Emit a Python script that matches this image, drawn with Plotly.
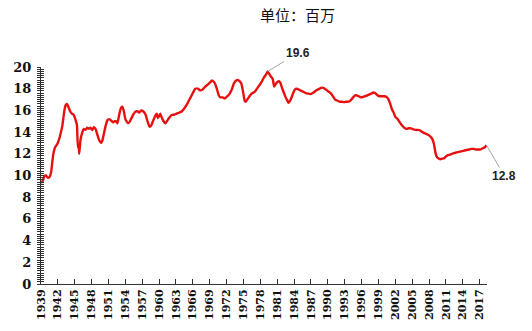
import plotly.graph_objects as go

# Manufacturing employment (millions), by year fraction
years = [
    1939.0, 1939.3, 1939.6, 1939.9, 1940.2, 1940.5, 1940.8, 1941.0, 1941.2, 1941.5,
    1941.9, 1942.2, 1942.5, 1942.8, 1943.0, 1943.2, 1943.4, 1943.6, 1943.9, 1944.2,
    1944.5, 1944.8, 1945.1, 1945.4, 1945.55, 1945.7, 1945.8, 1946.0, 1946.3, 1946.6,
    1946.9, 1947.2, 1947.5, 1947.8, 1948.1, 1948.4, 1948.7, 1949.0, 1949.4, 1949.7,
    1949.9, 1950.2, 1950.5, 1950.8, 1951.1, 1951.4, 1951.8, 1952.1, 1952.4, 1952.6,
    1952.9, 1953.2, 1953.45, 1953.7, 1954.0, 1954.4, 1954.7, 1955.0, 1955.4, 1955.8,
    1956.2, 1956.5, 1956.8, 1957.2, 1957.6, 1958.0, 1958.3, 1958.6, 1958.9, 1959.3,
    1959.6, 1959.75, 1959.9, 1960.2, 1960.5, 1960.8, 1961.1, 1961.5, 1961.9, 1962.3,
    1962.7, 1963.1, 1963.6, 1964.0, 1964.5, 1965.0, 1965.5, 1966.0, 1966.4, 1966.9,
    1967.3, 1967.7, 1968.2, 1968.7, 1969.1, 1969.4, 1969.8, 1970.2, 1970.6, 1970.9,
    1971.3, 1971.7, 1972.1, 1972.5, 1972.9, 1973.3, 1973.7, 1974.0, 1974.3, 1974.6,
    1974.9, 1975.2, 1975.4, 1975.8, 1976.2, 1976.6, 1977.0, 1977.4, 1977.8, 1978.2,
    1978.6, 1979.0, 1979.3, 1979.6, 1979.9, 1980.2, 1980.45, 1980.7, 1981.0, 1981.3,
    1981.6, 1981.9, 1982.2, 1982.5, 1982.8, 1983.0, 1983.3, 1983.7, 1984.1, 1984.5,
    1984.9, 1985.3, 1985.7, 1986.1, 1986.5, 1986.9, 1987.3, 1987.7, 1988.1, 1988.5,
    1988.9, 1989.3, 1989.7, 1990.1, 1990.5, 1990.9, 1991.3, 1991.7, 1992.1, 1992.5,
    1992.9, 1993.3, 1993.7, 1994.1, 1994.5, 1994.9, 1995.3, 1995.7, 1996.1, 1996.5,
    1996.9, 1997.3, 1997.7, 1998.1, 1998.4, 1998.8, 1999.2, 1999.6, 2000.0, 2000.4,
    2000.8, 2001.1, 2001.4, 2001.7, 2002.0, 2002.4, 2002.8, 2003.2, 2003.6, 2004.0,
    2004.4, 2004.8, 2005.2, 2005.6, 2006.0, 2006.4, 2006.8, 2007.2, 2007.6, 2008.0,
    2008.4, 2008.7, 2008.9, 2009.1, 2009.3, 2009.6, 2010.0, 2010.3, 2010.7, 2011.1,
    2011.5, 2011.9, 2012.3, 2012.7, 2013.1, 2013.5, 2013.9, 2014.3, 2014.7, 2015.1,
    2015.5, 2015.9, 2016.3, 2016.7, 2017.1, 2017.5, 2017.9, 2018.2,
]
employment = [
    9.3, 9.5, 9.95, 10.0, 9.8, 9.85, 10.3, 11.2, 12.0, 12.6,
    12.9, 13.3, 13.9, 14.6, 15.4, 16.1, 16.5, 16.6, 16.3, 15.9,
    15.7, 15.6, 15.2, 14.6, 12.6, 12.8, 12.0, 13.2, 13.9, 14.3,
    14.2, 14.4, 14.3, 14.4, 14.2, 14.45, 14.3, 13.8, 13.2, 13.0,
    13.2, 13.9, 14.6, 15.1, 15.2, 15.1, 14.9, 15.0, 15.0, 14.8,
    15.6, 16.2, 16.35, 16.0, 15.2, 14.85, 14.9, 15.2, 15.6, 15.9,
    15.9, 15.8, 16.0, 15.9, 15.6, 14.9, 14.5, 14.6, 15.0, 15.5,
    15.7, 15.3, 15.4, 15.7, 15.3, 15.0, 14.8, 15.1, 15.4, 15.6,
    15.6, 15.7, 15.8, 15.9, 16.2, 16.6, 17.1, 17.6, 18.0, 18.0,
    17.85, 17.9, 18.2, 18.4, 18.6, 18.75, 18.6, 18.1, 17.4, 17.2,
    17.2, 17.1, 17.3, 17.5, 17.9, 18.5, 18.75, 18.8, 18.7, 18.5,
    17.8, 16.9, 16.8, 17.1, 17.4, 17.6, 17.7, 18.0, 18.3, 18.6,
    19.0, 19.3, 19.6, 19.35, 19.1, 18.9, 18.2, 18.4, 18.6, 18.7,
    18.5, 18.0, 17.6, 17.2, 16.9, 16.7, 16.9, 17.4, 17.9, 18.0,
    17.9, 17.8, 17.7, 17.6, 17.55, 17.5, 17.6, 17.75, 17.9, 18.0,
    18.1, 18.05, 17.9, 17.75, 17.6, 17.3, 17.0, 16.9, 16.8, 16.8,
    16.75, 16.8, 16.8, 16.95, 17.2, 17.4, 17.35, 17.25, 17.2, 17.3,
    17.35, 17.45, 17.55, 17.65, 17.6, 17.4, 17.3, 17.3, 17.3, 17.25,
    17.0, 16.6, 16.1, 15.8, 15.4, 15.2, 14.9, 14.6, 14.4, 14.3,
    14.35, 14.35, 14.25, 14.2, 14.2, 14.15, 14.0, 13.9, 13.8, 13.7,
    13.5, 13.2, 12.8, 12.2, 11.8, 11.6, 11.5, 11.55, 11.6, 11.8,
    11.9, 11.95, 12.05, 12.1, 12.15, 12.2, 12.25, 12.3, 12.35, 12.4,
    12.45, 12.45, 12.4, 12.4, 12.4, 12.5, 12.6, 12.8,
]

tick_years = list(range(1939, 2018, 3))
tick_labels = [str(y) for y in tick_years]
unit_label = "单位：百万"

line_color = "#e8100f"
axis_color = "#333333"
label_font = dict(family="DejaVu Serif", size=11, color="#111111", weight="bold")

fig = go.Figure()
fig.add_trace(go.Scatter(
    x=years, y=employment, mode="lines",
    line=dict(color=line_color, width=2.4, shape="spline", smoothing=0.3),
    hoverinfo="skip", showlegend=False,
))

# Peak and latest value call-outs
peak_i = employment.index(max(employment))
last_i = len(employment) - 1
callouts = [(peak_i, 30, -18), (last_i, 18, 31)]
for i, ax, ay in callouts:
    fig.add_annotation(
        x=years[i], y=employment[i], text=f"{employment[i]:.1f}",
        showarrow=True, arrowhead=0, arrowwidth=1, arrowcolor="#a6a6a6",
        ax=ax, ay=ay, standoff=0,
        font=dict(family="Liberation Sans", size=12, color="#222222", weight="bold"),
    )

fig.add_annotation(
    x=0.575, y=1.0, xref="paper", yref="paper", yanchor="middle", yshift=53,
    text=unit_label, showarrow=False,
    font=dict(family="Noto Sans CJK SC", size=15, color="#111111"),
)

fig.update_layout(
    width=532, height=331,
    margin=dict(l=41, r=45, t=67, b=47, autoexpand=False),
    paper_bgcolor="white", plot_bgcolor="white",
    xaxis=dict(
        range=[1939, 2018.3], tickmode="array", tickvals=tick_years, ticktext=tick_labels,
        tickangle=-90, tickfont=label_font, automargin=False,
        showgrid=False, zeroline=False, showline=True, linecolor=axis_color, linewidth=1,
        ticks="inside", ticklen=5, tickcolor=axis_color,
    ),
    yaxis=dict(
        range=[0, 20], dtick=2, tickfont=dict(label_font, size=13), ticklabelstandoff=3,
        automargin=False,
        showgrid=False, zeroline=False, showline=True, linecolor=axis_color, linewidth=1,
        ticks="outside", ticklen=3, tickcolor=axis_color,
        minor=dict(dtick=0.2, ticks="outside", ticklen=3, tickcolor=axis_color),
    ),
    yaxis2=dict(
        range=[0, 20], dtick=2, overlaying="y", side="left", showticklabels=False,
        showgrid=False, zeroline=False, showline=False, automargin=False,
        ticks="inside", ticklen=3, tickcolor=axis_color,
        minor=dict(dtick=0.2, ticks="inside", ticklen=3, tickcolor=axis_color),
    ),
)
# Invisible trace so the inner tick marks on yaxis2 are drawn
fig.add_trace(go.Scatter(x=[years[0]], y=[employment[0]], yaxis="y2", mode="markers",
                         marker=dict(opacity=0), hoverinfo="skip", showlegend=False))

fig.write_html("out.html")
